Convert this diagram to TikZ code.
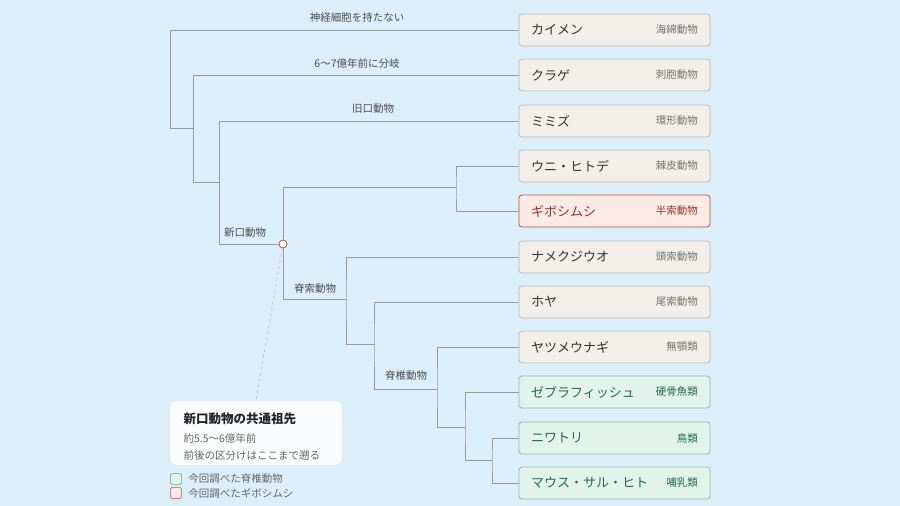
\documentclass[tikz,border=0pt]{standalone}
\usepackage{fontspec}
\setmainfont{Noto Sans CJK JP}
\definecolor{bgblue}{HTML}{DDEEFB}
\definecolor{leafgray}{HTML}{F2EFEA}
\definecolor{leafline}{HTML}{B8B6B2}
\definecolor{redfill}{HTML}{FBEAE5}
\definecolor{redline}{HTML}{B5533C}
\definecolor{redtext}{HTML}{8E3A28}
\definecolor{grnfill}{HTML}{E2F3EB}
\definecolor{grnline}{HTML}{82BFA0}
\definecolor{grntext}{HTML}{23694A}
\definecolor{branch}{HTML}{9A9A9A}
\tikzset{
  leaf/.style={draw=leafline, fill=leafgray, rounded corners=3pt, minimum width=191pt,
    minimum height=32pt, line width=0.8pt},
  leafname/.style={font=\fontsize{13}{13}\selectfont, text=black!80, anchor=west},
  grp/.style={font=\fontsize{10.5}{10.5}\selectfont, text=black!55, anchor=east},
  tag/.style={font=\fontsize{10.5}{10.5}\selectfont, text=black!70},
  br/.style={draw=branch, line width=0.9pt}
}
\begin{document}
\begin{tikzpicture}[x=1pt,y=-1pt]
\fill[bgblue] (0,0) rectangle (900,506);
\useasboundingbox (0,0) rectangle (900,506);

% leaves
\foreach \y/\n/\g/\k in {30/カイメン/海綿動物/a, 75/クラゲ/刺胞動物/b, 121/ミミズ/環形動物/c,
    166/ウニ・ヒトデ/棘皮動物/d, 257/ナメクジウオ/頭索動物/f, 302/ホヤ/尾索動物/g,
    347/ヤツメウナギ/無顎類/h}{
  \node[leaf] (\k) at (614.5,\y) {};
  \node[leafname] at ([xshift=9pt]\k.west) {\n};
  \node[grp] at ([xshift=-9pt]\k.east) {\g};
}
\node[leaf, fill=redfill, draw=redline] (e) at (614.5,211) {};
\node[leafname, text=redtext] at ([xshift=9pt]e.west) {ギボシムシ};
\node[grp, text=redtext] at ([xshift=-9pt]e.east) {半索動物};
\foreach \y/\n/\g/\k in {392/ゼブラフィッシュ/硬骨魚類/i, 438/ニワトリ/鳥類/j, 483/マウス・サル・ヒト/哺乳類/l}{
  \node[leaf, fill=grnfill, draw=grnline] (\k) at (614.5,\y) {};
  \node[leafname, text=grntext] at ([xshift=9pt]\k.west) {\n};
  \node[grp, text=grntext] at ([xshift=-9pt]\k.east) {\g};
}

% branches
\coordinate (n0) at (170,128);
\coordinate (n1) at (193,128);
\coordinate (n1b) at (193,182);
\coordinate (n2) at (219,182);
\coordinate (n2b) at (219,244);
\coordinate (n4) at (456,187);
\coordinate (n5) at (346,299);
\coordinate (n6) at (374,344);
\coordinate (n7) at (437,389);
\coordinate (n8) at (465,427);
\coordinate (n9) at (492,460);
\node[circle, draw=redline, fill=white, inner sep=0pt, minimum size=8pt, line width=0.8pt] (n3) at (283,244) {};

\draw[br] (a.west) -| (n0) -- (n1);
\draw[br] (b.west) -| (n1b) -- (n2);
\draw[br] (n1) -- (n1b);
\draw[br] (c.west) -| (n2b) -- (n3.west);
\draw[br] (n2) -- (n2b);
\draw[br] (n3.north) |- (n4);
\draw[br] (n3.south) |- (n5);
\draw[br] (d.west) -| (n4) |- (e.west);
\draw[br] (f.west) -| (n5) |- (n6);
\draw[br] (g.west) -| (n6) |- (n7);
\draw[br] (h.west) -| (n7) |- (n8);
\draw[br] (i.west) -| (n8) |- (n9);
\draw[br] (j.west) -| (n9) |- (l.west);

% labels
\node[tag] at (357,18) {神経細胞を持たない};
\node[tag] at (357,64) {6〜7億年前に分岐};
\node[tag] at (373,109) {旧口動物};
\node[tag] at (245,233) {新口動物};
\node[tag] at (315,289) {脊索動物};
\node[tag] at (406,376) {脊椎動物};

% callout
\node[draw=black!10, fill=white!85!bgblue, rounded corners=6pt,
  minimum width=172pt, minimum height=64pt] (box) at (256,433) {};
\draw[branch!70, dashed, line width=0.6pt] (n3) -- (box.north);
\node[anchor=west, font=\fontsize{12.5}{12.5}\selectfont\bfseries, text=black!85] at (180,419) {新口動物の共通祖先};
\node[anchor=west, font=\fontsize{10.5}{10.5}\selectfont, text=black!60] at (180,438) {約5.5〜6億年前};
\node[anchor=west, font=\fontsize{10.5}{10.5}\selectfont, text=black!60] at (180,456) {前後の区分けはここまで遡る};

% legend
\node[draw=grnline, fill=grnfill, rounded corners=1.5pt, minimum size=11pt, inner sep=0pt, line width=0.8pt] (lg) at (176,479) {};
\node[anchor=west, font=\fontsize{10.5}{10.5}\selectfont, text=black!60] at ([xshift=3pt]lg.east) {今回調べた脊椎動物};
\node[draw=redline!70, fill=redfill, rounded corners=1.5pt, minimum size=11pt, inner sep=0pt, line width=0.8pt] (lr) at (176,493) {};
\node[anchor=west, font=\fontsize{10.5}{10.5}\selectfont, text=black!60] at ([xshift=3pt]lr.east) {今回調べたギボシムシ};
\end{tikzpicture}
\end{document}
